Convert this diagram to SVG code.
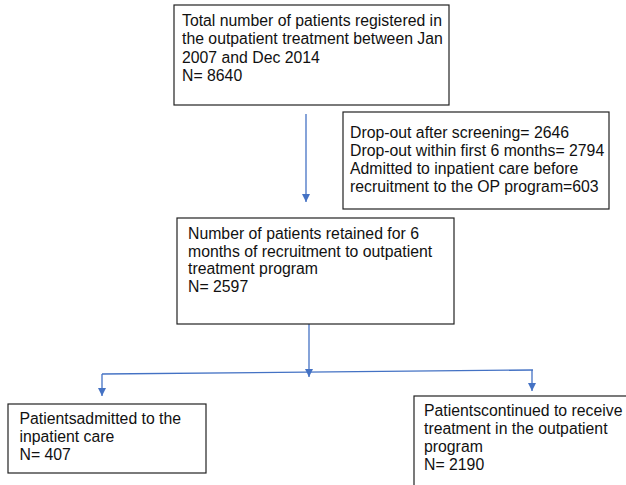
<svg xmlns="http://www.w3.org/2000/svg" width="626" height="485" viewBox="0 0 626 485">
<defs>
<style>
.box{fill:#fff;stroke:#222;stroke-width:1.2}
.t{font-family:"Liberation Sans",Arial,sans-serif;font-size:15.8px;fill:#111}
.c{stroke:#4472C4;stroke-width:1.3;fill:none}
</style>
<marker id="ah" viewBox="0 0 10 10" refX="10" refY="5" markerWidth="8" markerHeight="8" markerUnits="userSpaceOnUse" orient="auto">
<path d="M0,0 L10,5 L0,10 z" fill="#4472C4"/>
</marker>
</defs>
<rect width="626" height="485" fill="#fff"/>
<g id="connectors">
<line class="c" x1="306" y1="114" x2="306" y2="202" marker-end="url(#ah)"/>
<line class="c" x1="309" y1="324" x2="309" y2="377" marker-end="url(#ah)"/>
<line class="c" x1="102" y1="374" x2="533" y2="370"/>
<line class="c" x1="102" y1="374" x2="102" y2="396" marker-end="url(#ah)"/>
<line class="c" x1="532" y1="370" x2="532" y2="391" marker-end="url(#ah)"/>
</g>
<g id="n1">
<rect class="box" x="174" y="5" width="275" height="100"/>
<text class="t" x="182" y="26">Total number of patients registered in</text>
<text class="t" x="182" y="44">the outpatient treatment between Jan</text>
<text class="t" x="182" y="62.5">2007 and Dec 2014</text>
<text class="t" x="182" y="81">N= 8640</text>
</g>
<g id="n2">
<rect class="box" x="343" y="112" width="266" height="97"/>
<text class="t" x="350" y="138">Drop-out after screening= 2646</text>
<text class="t" x="350" y="156">Drop-out within first 6 months= 2794</text>
<text class="t" x="350" y="174">Admitted to inpatient care before</text>
<text class="t" x="350" y="192">recruitment to the OP program=603</text>
</g>
<g id="n3">
<rect class="box" x="177" y="218" width="277" height="106"/>
<text class="t" x="188" y="239">Number of patients retained for 6</text>
<text class="t" x="188" y="256.5">months of recruitment to outpatient</text>
<text class="t" x="188" y="274">treatment program</text>
<text class="t" x="188" y="292">N= 2597</text>
</g>
<g id="n4">
<rect class="box" x="8" y="404" width="198" height="69"/>
<text class="t" x="19.5" y="423.5">Patientsadmitted to the</text>
<text class="t" x="19.5" y="441.5">inpatient care</text>
<text class="t" x="19.5" y="460">N= 407</text>
</g>
<g id="n5">
<rect class="box" x="414" y="396" width="216" height="100"/>
<text class="t" x="424" y="415.5">Patientscontinued to receive</text>
<text class="t" x="424" y="434">treatment in the outpatient</text>
<text class="t" x="424" y="452">program</text>
<text class="t" x="424" y="470">N= 2190</text>
</g>
</svg>
